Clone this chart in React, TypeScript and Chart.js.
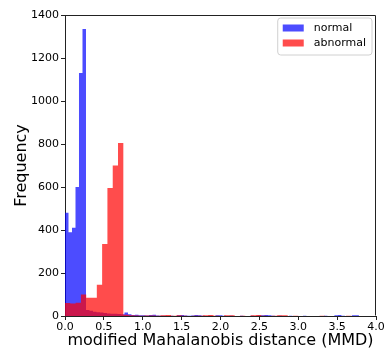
import React, { useEffect, useRef } from 'react';
import { Chart, registerables } from 'chart.js';

Chart.register(...registerables);

// ---------- data ----------
const seriesNames = ['normal', 'abnormal'];
const xTickValues = [0, 0.5, 1, 1.5, 2, 2.5, 3, 3.5, 4];
const yTickStep = 200;
const yMax = 1400;
const xMax = 4;
const xTitle = 'modified Mahalanobis distance (MMD)';
const yTitle = 'Frequency';

const normalBinStart = 0;
const normalBinWidth = 0.045;
const normalCounts = [
  480, 390, 410, 600, 1130, 1335,
  28, 24, 20, 18, 16, 14, 12, 11, 10, 9, 8,
  16, 8, 5, 6, 4, 3, 2, 5, 6, 2, 1, 1, 0, 1, 0,
  4, 5, 2, 1, 2, 5, 4, 1, 0, 1, 0, 4, 4, 1, 0, 1, 0, 0, 1, 0, 0, 1, 0, 2,
  3, 5, 3, 1, 0, 1, 0,
  0, 1, 0, 0, 0, 1, 0, 0, 0, 0, 0, 1, 0, 0,
  4, 5, 1, 0, 0, 4, 3,
];

const abnormalBinStart = 0;
const abnormalBinWidth = 0.0682;
const abnormalCounts = [
  60, 58, 62, 100, 85, 85, 145, 335, 595, 700, 805,
  6, 3, 2, 1, 2, 2, 1, 4, 5, 1, 3, 1, 0, 1, 1, 3, 5, 1, 0,
  4, 3, 0, 1, 0, 4, 5, 1, 0, 1, 4, 3,
  0, 1, 0, 0, 0, 0, 1, 0, 0, 0, 0, 1, 0,
];

const normalColor = 'rgba(0, 0, 255, 0.7)';
const abnormalColor = 'rgba(255, 0, 0, 0.7)';

function toSteps(start: number, width: number, counts: number[]) {
  const pts = counts.map((c, i) => ({ x: start + i * width, y: c }));
  pts.push({ x: start + counts.length * width, y: 0 });
  return pts;
}

const FONT = '"DejaVu Sans", "Liberation Sans", sans-serif';

const framePlugin = {
  id: 'frame',
  afterDatasetsDraw(chart: any) {
    const { ctx, chartArea } = chart;
    ctx.save();
    ctx.strokeStyle = '#222';
    ctx.lineWidth = 1;
    ctx.beginPath();
    const l = Math.round(chartArea.left) + 0.5;
    const r = Math.round(chartArea.right) - 0.5;
    const t = Math.round(chartArea.top) + 0.5;
    const b = Math.round(chartArea.bottom) - 0.5;
    ctx.moveTo(l, t);
    ctx.lineTo(r, t);
    ctx.lineTo(r, b);
    ctx.stroke();
    ctx.restore();
  },
};

const boxLegendPlugin = {
  id: 'boxLegend',
  afterDraw(chart: any) {
    const { ctx, chartArea } = chart;
    const items = chart.data.datasets.map((d: any) => ({ text: d.label, color: d.backgroundColor }));
    ctx.save();
    ctx.font = `11px ${FONT}`;
    const textW = Math.max(...items.map((it: any) => ctx.measureText(it.text).width));
    const padL = 5, patchW = 21, patchH = 7, gap = 10, padR = 6, rowH = 15;
    const boxW = padL + patchW + gap + textW + padR;
    const boxH = 37;
    const x = chartArea.right - 4 - boxW;
    const y = chartArea.top + 3;
    const rad = 3;
    ctx.beginPath();
    ctx.moveTo(x + rad, y);
    ctx.lineTo(x + boxW - rad, y);
    ctx.arcTo(x + boxW, y, x + boxW, y + rad, rad);
    ctx.lineTo(x + boxW, y + boxH - rad);
    ctx.arcTo(x + boxW, y + boxH, x + boxW - rad, y + boxH, rad);
    ctx.lineTo(x + rad, y + boxH);
    ctx.arcTo(x, y + boxH, x, y + boxH - rad, rad);
    ctx.lineTo(x, y + rad);
    ctx.arcTo(x, y, x + rad, y, rad);
    ctx.closePath();
    ctx.fillStyle = 'rgba(255,255,255,0.8)';
    ctx.fill();
    ctx.strokeStyle = '#d0d0d0';
    ctx.lineWidth = 1;
    ctx.stroke();
    items.forEach((it: any, i: number) => {
      const cy = y + 10 + i * rowH;
      ctx.fillStyle = it.color;
      ctx.fillRect(x + padL, cy - patchH / 2, patchW, patchH);
      ctx.fillStyle = '#000';
      ctx.textBaseline = 'middle';
      ctx.textAlign = 'left';
      ctx.fillText(it.text, x + padL + patchW + gap, cy);
    });
    ctx.restore();
  },
};

export default function App() {
  const ref = useRef<HTMLCanvasElement | null>(null);
  useEffect(() => {
    if (!ref.current) return;
    const chart = new Chart(ref.current, {
      type: 'line',
      data: {
        datasets: [
          {
            label: seriesNames[0],
            data: toSteps(normalBinStart, normalBinWidth, normalCounts),
            stepped: true,
            fill: 'origin',
            backgroundColor: normalColor,
            borderColor: 'rgba(0,0,0,0)',
            borderWidth: 0,
            pointRadius: 0,
            order: 1,
          },
          {
            label: seriesNames[1],
            data: toSteps(abnormalBinStart, abnormalBinWidth, abnormalCounts),
            stepped: true,
            fill: 'origin',
            backgroundColor: abnormalColor,
            borderColor: 'rgba(0,0,0,0)',
            borderWidth: 0,
            pointRadius: 0,
            order: 0,
          },
        ],
      },
      options: {
        animation: false,
        responsive: false,
        devicePixelRatio: 1,
        layout: { padding: { top: 15, right: 11, left: 0, bottom: 0 } },
        plugins: {
          legend: { display: false },
          tooltip: { enabled: false },
        },
        scales: {
          x: {
            type: 'linear',
            min: 0,
            max: xMax,
            afterFit: (s: any) => { s.height = 34; },
            afterBuildTicks: (s: any) => { s.ticks = xTickValues.map((v) => ({ value: v })); },
            ticks: {
              autoSkip: false,
              maxRotation: 0,
              padding: 1,
              color: '#000',
              font: { family: FONT, size: 11 },
              callback: (v: any) => Number(v).toFixed(1),
            },
            grid: { drawOnChartArea: false, drawTicks: true, tickLength: 4, color: '#222' },
            border: { display: true, color: '#222' },
            title: {
              display: true,
              text: xTitle,
              color: '#000',
              font: { family: FONT, size: 16 },
              padding: { top: 0, bottom: 0 },
            },
          },
          y: {
            type: 'linear',
            min: 0,
            max: yMax,
            afterFit: (s: any) => { s.width = 65; },
            ticks: {
              stepSize: yTickStep,
              padding: 2,
              color: '#000',
              font: { family: FONT, size: 11 },
              callback: (v: any) => String(v),
            },
            grid: { drawOnChartArea: false, drawTicks: true, tickLength: 4, color: '#222' },
            border: { display: true, color: '#222' },
            title: {
              display: true,
              text: yTitle,
              color: '#000',
              font: { family: FONT, size: 16 },
              padding: { top: 12, bottom: 0 },
            },
          },
        },
      },
      plugins: [framePlugin, boxLegendPlugin],
    } as any);
    return () => chart.destroy();
  }, []);
  return (
    <div style={{ position: 'fixed', left: 0, top: 0, width: 387, height: 350, background: '#fff' }}>
      <canvas ref={ref} width={387} height={350} style={{ display: 'block' }} />
    </div>
  );
}
